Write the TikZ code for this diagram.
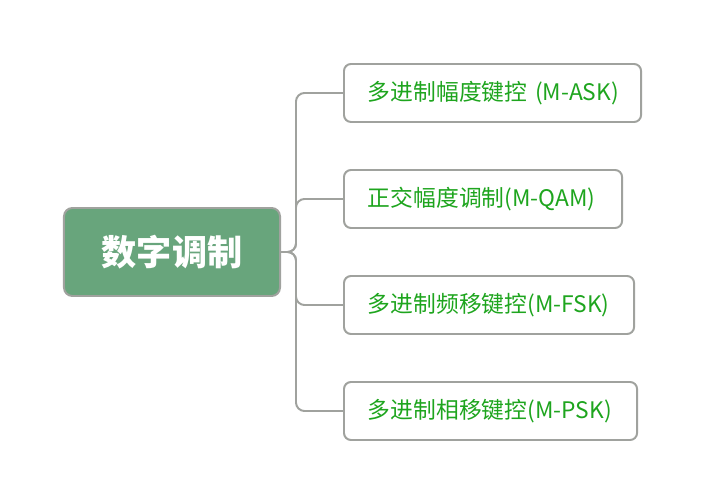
\documentclass[tikz,border=0pt]{standalone}
\usepackage{fontspec}
\newfontfamily\cjk{Noto Sans CJK SC}
\usepackage{tikz}
\usepackage{xcolor}
\definecolor{rootgreen}{RGB}{104,165,124}
\definecolor{leafgreen}{RGB}{30,165,30}
\definecolor{edgegray}{RGB}{160,162,158}

\begin{document}
\begin{tikzpicture}[
  x=0.025cm, y=-0.025cm,
  % Node Styles
  rootnode/.style={rectangle, rounded corners=6pt, draw=edgegray, line width=1.4pt, fill=rootgreen, text=white, minimum height=2.2cm, minimum width=5.4cm, font=\cjk\fontsize{25}{29}\selectfont\bfseries, align=center},
  leafnode/.style={rectangle, rounded corners=5pt, draw=edgegray, line width=1.4pt, fill=white, text=leafgreen, minimum height=1.45cm, anchor=west, font=\cjk\fontsize{16.2}{19}\selectfont, inner xsep=0.6cm, align=left},
  % Line Styles
  branch/.style={draw=edgegray, line width=1.4pt, rounded corners=6pt}
]
\useasboundingbox (0,0) rectangle (703,503);

% Diagram for: digital modulation

\node[rootnode] (root) at (172,252) {数字调制};
\node[leafnode, text width=6.225cm] (t1) at (343,93) {\mbox{多进制幅度键控 (M-ASK)}};
\node[leafnode, text width=5.75cm] (t2) at (343,199) {\mbox{正交幅度调制(M-QAM)}};
\node[leafnode, text width=6.05cm] (t3) at (343,305) {\mbox{多进制频移键控(M-FSK)}};
\node[leafnode, text width=6.125cm] (t4) at (343,411) {\mbox{多进制相移键控(M-PSK)}};

\coordinate (fork) at (296,252);
\foreach \t in {t1,t2,t3,t4}
  \draw[branch] (root.east) -- (fork) |- (\t.west);

\end{tikzpicture}
\end{document}
